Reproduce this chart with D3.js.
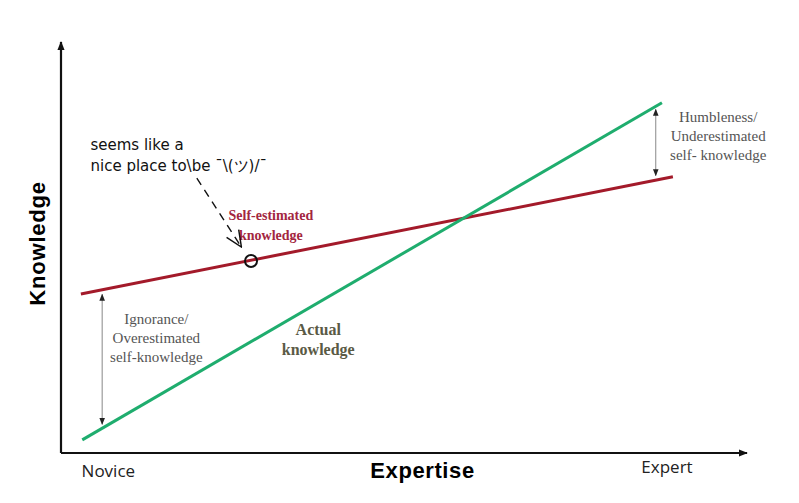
<!DOCTYPE html>
<html>
<head>
<meta charset="utf-8">
<script src="https://cdn.jsdelivr.net/npm/d3@7"></script>
<style>
body { margin: 0; background: #fff; }
</style>
</head>
<body>
<svg id="chart" width="799" height="503"></svg>
<script>
// expertise (0-100) vs knowledge (0-100)
var selfEstimated = [{x: 2.9, y: 38.7}, {x: 89.2, y: 67.2}];
var actual = [{x: 3.1, y: 3.2}, {x: 87.6, y: 85.2}];
var gaps = [
  {x: 6.0, y0: 38.6, y1: 7.0, lines: ["Ignorance/", "Overestimated", "self-knowledge"], lx: 13.9, ly: 31.4},
  {x: 86.7, y0: 83.6, y1: 67.5, lines: ["Humbleness/", "Underestimated", "self- knowledge"], lx: 95.8, ly: 80.5}
];
var note = {x: 27.7, y: 46.7};
var xLabels = ["Novice", "Expert"];

var svg = d3.select("#chart");
var x = d3.scaleLinear().domain([0, 100]).range([61, 747]);
var y = d3.scaleLinear().domain([0, 100]).range([453, 42]);

var defs = svg.append("defs");
function marker(id, size, color) {
  defs.append("marker")
    .attr("id", id)
    .attr("viewBox", "0 0 10 10")
    .attr("refX", 9).attr("refY", 5)
    .attr("markerWidth", size).attr("markerHeight", size)
    .attr("markerUnits", "userSpaceOnUse")
    .attr("orient", "auto-start-reverse")
    .append("path").attr("d", "M0,1 L10,5 L0,9 Z").attr("fill", color);
}
marker("axisArrow", 9, "#111");
marker("gapArrow", 7, "#222");
defs.append("marker")
  .attr("id", "openArrow")
  .attr("viewBox", "0 0 20 20")
  .attr("refX", 19).attr("refY", 10)
  .attr("markerWidth", 18).attr("markerHeight", 18)
  .attr("markerUnits", "userSpaceOnUse")
  .attr("orient", "auto")
  .append("path").attr("d", "M1,2 L19,10 L1,18")
  .attr("fill", "none").attr("stroke", "#111").attr("stroke-width", 1.6);

// axes
svg.append("line")
  .attr("x1", x(0)).attr("y1", y(0)).attr("x2", x(0)).attr("y2", y(100))
  .attr("stroke", "#111").attr("stroke-width", 2.2).attr("marker-end", "url(#axisArrow)");
svg.append("line")
  .attr("x1", x(0)).attr("y1", y(0)).attr("x2", x(100)).attr("y2", y(0))
  .attr("stroke", "#111").attr("stroke-width", 2.2).attr("marker-end", "url(#axisArrow)");

svg.append("text")
  .attr("transform", "translate(45," + y(51) + ") rotate(-90)")
  .attr("text-anchor", "middle")
  .style("font-family", "Liberation Sans, Arial, sans-serif")
  .style("font-weight", "bold").style("font-size", "22px")
  .style("letter-spacing", "0.8px")
  .text("Knowledge");

svg.append("text")
  .attr("x", x(52.7)).attr("y", 478)
  .attr("text-anchor", "middle")
  .style("font-family", "Liberation Sans, Arial, sans-serif")
  .style("font-weight", "bold").style("font-size", "22px")
  .style("letter-spacing", "0.6px")
  .text("Expertise");

svg.selectAll(".endLabel")
  .data(xLabels)
  .enter().append("text")
  .attr("class", "endLabel")
  .attr("x", function(d, i) { return i == 0 ? x(3.0) : x(84.6); })
  .attr("y", function(d, i) { return i == 0 ? 477 : 473; })
  .style("font-family", "Open Sans, Liberation Sans, sans-serif")
  .style("font-size", "17px").style("fill", "#222")
  .text(function(d) { return d; });

var line = d3.line().x(function(d) { return x(d.x); }).y(function(d) { return y(d.y); });

svg.append("path").datum(selfEstimated)
  .attr("d", line).attr("fill", "none")
  .attr("stroke", "#a31a2a").attr("stroke-width", 3);
svg.append("path").datum(actual)
  .attr("d", line).attr("fill", "none")
  .attr("stroke", "#1fad6e").attr("stroke-width", 3);

// gap arrows
svg.selectAll(".gap")
  .data(gaps)
  .enter().append("line")
  .attr("class", "gap")
  .attr("x1", function(d) { return x(d.x); })
  .attr("x2", function(d) { return x(d.x); })
  .attr("y1", function(d) { return y(d.y0); })
  .attr("y2", function(d) { return y(d.y1); })
  .attr("stroke", "#888").attr("stroke-width", 1)
  .attr("marker-start", "url(#gapArrow)")
  .attr("marker-end", "url(#gapArrow)");

var gapText = svg.selectAll(".gapText")
  .data(gaps)
  .enter().append("text")
  .attr("class", "gapText")
  .attr("text-anchor", "middle")
  .style("font-family", "Liberation Serif, serif")
  .style("font-size", "15px").style("fill", "#555");
gapText.selectAll("tspan")
  .data(function(d) { return d.lines.map(function(l, i) { return {t: l, i: i, d: d}; }); })
  .enter().append("tspan")
  .attr("x", function(d) { return x(d.d.lx); })
  .attr("y", function(d) { return y(d.d.ly) + d.i * 19; })
  .text(function(d) { return d.t; });

// line labels
var selfLbl = svg.append("text").attr("text-anchor", "middle")
  .style("font-family", "Liberation Serif, serif").style("font-weight", "bold")
  .style("font-size", "14px").style("fill", "#a3263f");
selfLbl.append("tspan").attr("x", x(30.6)).attr("y", y(56.7)).text("Self-estimated");
selfLbl.append("tspan").attr("x", x(30.6)).attr("y", y(51.8)).text("knowledge");

var actLbl = svg.append("text").attr("text-anchor", "middle")
  .style("font-family", "Liberation Serif, serif").style("font-weight", "bold")
  .style("font-size", "16px").style("fill", "#5a5a45");
actLbl.append("tspan").attr("x", x(37.5)).attr("y", y(28.7)).text("Actual");
actLbl.append("tspan").attr("x", x(37.5)).attr("y", y(23.8)).text("knowledge");

// handwritten annotation
var hand = svg.append("text")
  .style("font-family", "DejaVu Sans, sans-serif")
  .style("font-size", "15px").style("fill", "#111");
hand.append("tspan").attr("x", x(4.3)).attr("y", y(73.7)).text("seems like a");
hand.append("tspan").attr("x", x(4.3)).attr("y", y(68.7)).text("nice place to\\be  ¯\\(ツ)/¯");

svg.append("line")
  .attr("x1", x(19.8)).attr("y1", y(66.9))
  .attr("x2", x(26.3)).attr("y2", y(50.1))
  .attr("stroke", "#111").attr("stroke-width", 1.4)
  .attr("stroke-dasharray", "8,6")
  .attr("marker-end", "url(#openArrow)");

svg.append("circle")
  .attr("cx", x(note.x)).attr("cy", y(note.y)).attr("r", 6)
  .attr("fill", "none").attr("stroke", "#111").attr("stroke-width", 2);
</script>
</body>
</html>
